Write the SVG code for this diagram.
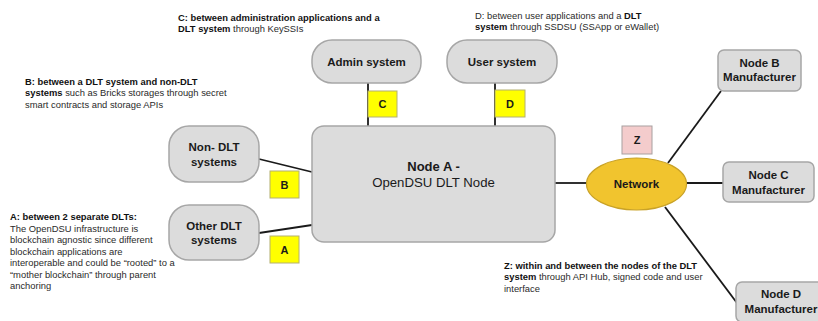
<svg xmlns="http://www.w3.org/2000/svg" width="818" height="321" viewBox="0 0 818 321">
<style>
.node{fill:#dcdcdc;stroke:#a6a6a6;stroke-width:1.5}
.lbl{font-family:"Liberation Sans",Arial,sans-serif;font-size:11.5px;font-weight:bold;fill:#1a1a1a;text-anchor:middle}
.tag{fill:#ffff00;stroke:#b4b070;stroke-width:1}
.tagt{font-family:"Liberation Sans",Arial,sans-serif;font-size:11px;font-weight:bold;fill:#1a1a1a;text-anchor:middle}
.note{font-family:"Liberation Sans",Arial,sans-serif;font-size:9.4px;fill:#2a2a2a}
.b{font-weight:bold;fill:#111}
.con{stroke:#1a1a1a;stroke-width:1.8;fill:none}
</style>
<rect width="818" height="321" fill="#ffffff"/>
<g id="connectors">
<line class="con" x1="368" y1="83" x2="368" y2="126"/>
<line class="con" x1="495" y1="83" x2="495" y2="126"/>
<line class="con" x1="259" y1="159" x2="312" y2="172"/>
<line class="con" x1="259" y1="233" x2="312" y2="225"/>
<line class="con" x1="555" y1="183" x2="587" y2="183"/>
<line class="con" x1="686" y1="183" x2="723" y2="183"/>
<line class="con" x1="668" y1="163" x2="721" y2="91"/>
<line class="con" x1="665" y1="207" x2="737" y2="303"/>
</g>
<g id="admin"><rect class="node" x="312" y="40" width="109" height="43" rx="20"/><text class="lbl" x="366.5" y="66">Admin system</text></g>
<g id="user"><rect class="node" x="447" y="40" width="110" height="43" rx="20"/><text class="lbl" x="502" y="66">User system</text></g>
<g id="nonDLT"><rect class="node" x="169" y="126" width="90" height="56" rx="20"/><text class="lbl" x="214" y="151">Non- DLT</text><text class="lbl" x="214" y="166">systems</text></g>
<g id="otherDLT"><rect class="node" x="169" y="205" width="90" height="55" rx="20"/><text class="lbl" x="214" y="230">Other DLT</text><text class="lbl" x="214" y="244">systems</text></g>
<g id="nodeA"><rect class="node" x="312" y="126" width="243" height="116" rx="12"/><text class="lbl" x="433.5" y="170.5" style="font-size:13px">Node A -</text><text class="lbl" x="433.5" y="187" style="font-size:13.2px;font-weight:normal">OpenDSU DLT Node</text></g>
<g id="network"><ellipse cx="636.5" cy="184" rx="50" ry="26" fill="#f1c42e" stroke="#c9a227" stroke-width="1.2"/><text class="lbl" x="636.5" y="188">Network</text></g>
<g id="nodeB"><rect class="node" x="718" y="50" width="83" height="41" rx="6"/><text class="lbl" x="759.5" y="67">Node B</text><text class="lbl" x="759.5" y="81">Manufacturer</text></g>
<g id="nodeC"><rect class="node" x="723" y="162" width="91" height="40" rx="6"/><text class="lbl" x="768.5" y="179">Node C</text><text class="lbl" x="768.5" y="194">Manufacturer</text></g>
<g id="nodeD"><rect class="node" x="736" y="282" width="90" height="40" rx="6"/><text class="lbl" x="781" y="298">Node D</text><text class="lbl" x="781" y="313">Manufacturer</text></g>
<g id="tagC"><rect class="tag" x="368" y="91" width="29" height="26"/><text class="tagt" x="382.5" y="108">C</text></g>
<g id="tagD"><rect class="tag" x="495" y="90" width="30" height="27"/><text class="tagt" x="510" y="107.5">D</text></g>
<g id="tagB"><rect class="tag" x="270" y="171" width="29" height="27"/><text class="tagt" x="284.5" y="188.5">B</text></g>
<g id="tagA"><rect class="tag" x="270" y="236" width="29" height="27"/><text class="tagt" x="284.5" y="253.5">A</text></g>
<g id="tagZ"><rect x="622" y="126" width="30" height="28" fill="#f4cccc" stroke="#a8a0a0" stroke-width="1"/><text class="tagt" x="637" y="144">Z</text></g>
<g id="noteC" class="note">
<text x="178" y="21" class="b">C: between administration applications and a</text>
<text x="178" y="32"><tspan class="b">DLT system</tspan> through KeySSIs</text>
</g>
<g id="noteD" class="note">
<text x="475" y="19">D: between user applications and a <tspan class="b">DLT</tspan></text>
<text x="475" y="30"><tspan class="b">system</tspan> through SSDSU (SSApp or eWallet)</text>
</g>
<g id="noteB" class="note">
<text x="25" y="85" class="b">B: between a DLT system and non-DLT</text>
<text x="25" y="96"><tspan class="b">systems</tspan> such as Bricks storages through secret</text>
<text x="25" y="107.5">smart contracts and storage APIs</text>
</g>
<g id="noteA" class="note">
<text x="10" y="220" class="b">A: between 2 separate DLTs:</text>
<text x="10" y="231.5">The OpenDSU infrastructure is</text>
<text x="10" y="243">blockchain agnostic since different</text>
<text x="10" y="254.5">blockchain applications are</text>
<text x="10" y="266">interoperable and could be “rooted” to a</text>
<text x="10" y="277.5">“mother blockchain” through parent</text>
<text x="10" y="289">anchoring</text>
</g>
<g id="noteZ" class="note">
<text x="504" y="268.5" class="b">Z: within and between the nodes of the DLT</text>
<text x="504" y="280"><tspan class="b">system</tspan> through API Hub, signed code and user</text>
<text x="504" y="291.5">interface</text>
</g>
</svg>
